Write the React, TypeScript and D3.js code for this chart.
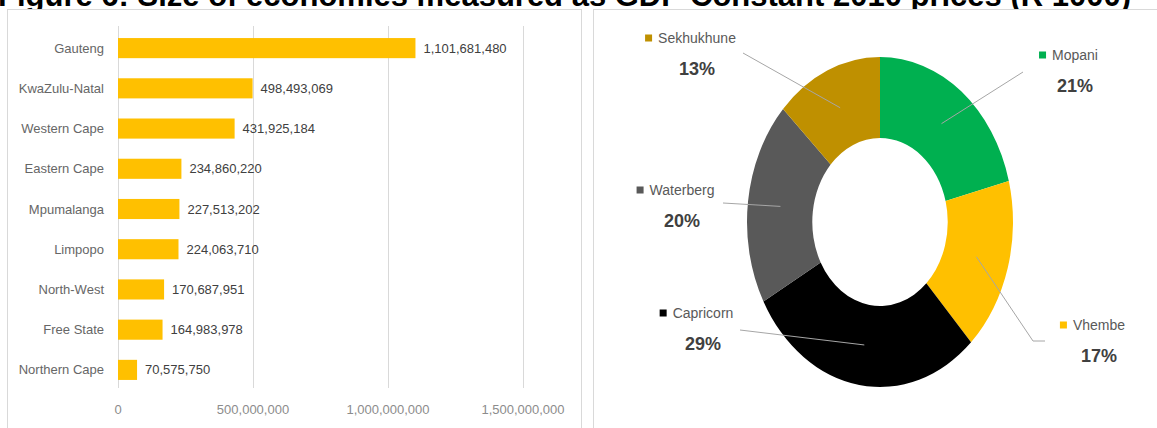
import React, { useEffect, useRef } from "react";
import * as d3 from "d3";

const TITLE = "Figure 6: Size of economies measured as GDP Constant 2010 prices (R 1000)";

const provinces = [
  "Gauteng",
  "KwaZulu-Natal",
  "Western Cape",
  "Eastern Cape",
  "Mpumalanga",
  "Limpopo",
  "North-West",
  "Free State",
  "Northern Cape",
];
const gdpValues = [
  1101681480, 498493069, 431925184, 234860220, 227513202, 224063710, 170687951, 164983978, 70575750,
];
const xTicks = [0, 500000000, 1000000000, 1500000000];

const districts = ["Mopani", "Vhembe", "Capricorn", "Waterberg", "Sekhukhune"];
const districtShares = [21, 17, 29, 20, 13];
const districtColors = ["#00B050", "#FFC000", "#000000", "#595959", "#BF9000"];

// label layout (name centre) for each district, in drawing coordinates
const labelLayout = [
  { cx: 1075, cy: 55, lx: 1023, ly: 72 },
  { cx: 1099, cy: 325, lx: 1045, ly: 341, bx: 1033 },
  { cx: 703, cy: 313, lx: 740, ly: 330 },
  { cx: 682, cy: 190, lx: 723, ly: 203 },
  { cx: 697, cy: 38, lx: 743, ly: 53 },
];

const FONT = "'Liberation Sans', Arial, sans-serif";

export default function App() {
  const ref = useRef<SVGSVGElement | null>(null);

  useEffect(() => {
    const svg = d3.select(ref.current);
    svg.selectAll("*").remove();

    // title (cut off at top, as in the reference)
    svg
      .append("text")
      .attr("x", -2)
      .attr("y", 6)
      .attr("font-family", FONT)
      .attr("font-weight", "bold")
      .attr("font-size", 31)
      .attr("fill", "#000")
      .text(TITLE);

    // panels
    svg
      .append("rect")
      .attr("x", 7.5)
      .attr("y", 9.5)
      .attr("width", 574)
      .attr("height", 430)
      .attr("fill", "#fff")
      .attr("stroke", "#D9D9D9");
    svg
      .append("rect")
      .attr("x", 593.5)
      .attr("y", 9.5)
      .attr("width", 600)
      .attr("height", 430)
      .attr("fill", "#fff")
      .attr("stroke", "#D9D9D9");

    // ---------- bar chart ----------
    const x = d3.scaleLinear().domain([0, 1500000000]).range([118, 523]);
    const y = d3
      .scaleBand<string>()
      .domain(provinces)
      .range([28, 390])
      .paddingInner(0.5)
      .paddingOuter(0.25);

    const g = svg.append("g");
    g.selectAll("line.grid")
      .data(xTicks)
      .join("line")
      .attr("class", "grid")
      .attr("x1", (d) => Math.round(x(d)) + 0.5)
      .attr("x2", (d) => Math.round(x(d)) + 0.5)
      .attr("y1", 26)
      .attr("y2", 388)
      .attr("stroke", "#D9D9D9")
      .attr("stroke-width", 1);

    g.selectAll("text.tick")
      .data(xTicks)
      .join("text")
      .attr("class", "tick")
      .attr("x", (d) => x(d))
      .attr("y", 414)
      .attr("text-anchor", "middle")
      .attr("font-family", FONT)
      .attr("font-size", 13)
      .attr("fill", "#8C8C8C")
      .text((d) => d3.format(",")(d));

    g.selectAll("rect.bar")
      .data(provinces)
      .join("rect")
      .attr("class", "bar")
      .attr("x", x(0))
      .attr("y", (d) => y(d)!)
      .attr("width", (d, i) => x(gdpValues[i]) - x(0))
      .attr("height", y.bandwidth())
      .attr("fill", "#FFC000");

    g.selectAll("text.cat")
      .data(provinces)
      .join("text")
      .attr("class", "cat")
      .attr("x", 104)
      .attr("y", (d) => y(d)! + y.bandwidth() / 2 + 4.5)
      .attr("text-anchor", "end")
      .attr("font-family", FONT)
      .attr("font-size", 13)
      .attr("fill", "#666666")
      .text((d) => d);

    g.selectAll("text.val")
      .data(provinces)
      .join("text")
      .attr("class", "val")
      .attr("x", (d, i) => x(gdpValues[i]) + 8)
      .attr("y", (d) => y(d)! + y.bandwidth() / 2 + 4.5)
      .attr("font-family", FONT)
      .attr("font-size", 13)
      .attr("fill", "#404040")
      .text((d, i) => d3.format(",")(gdpValues[i]));

    // ---------- donut ----------
    const R = 165;
    const r0 = 84;
    const sx = 133 / 165;
    const cx = 880;
    const cy = 222;
    const pie = d3
      .pie<number>()
      .sort(null)
      .value((d) => d);
    const arcs = pie(districtShares);
    const arc = d3.arc<d3.PieArcDatum<number>>().innerRadius(r0).outerRadius(R);

    const dg = svg.append("g").attr("transform", `translate(${cx},${cy}) scale(${sx},1)`);
    dg.selectAll("path")
      .data(arcs)
      .join("path")
      .attr("d", arc)
      .attr("fill", (d, i) => districtColors[i]);

    // leader lines
    arcs.forEach((a, i) => {
      const [mx, my] = arc.centroid(a);
      const px = cx + mx * sx;
      const py = cy + my;
      const L = labelLayout[i];
      const pts: [number, number][] = [[L.lx, L.ly]];
      if (L.bx !== undefined) pts.push([L.bx, L.ly]);
      pts.push([px, py]);
      svg
        .append("path")
        .attr("d", d3.line()(pts))
        .attr("fill", "none")
        .attr("stroke", "#A6A6A6")
        .attr("stroke-width", 1);
    });

    // labels
    districts.forEach((name, i) => {
      const L = labelLayout[i];
      const t = svg
        .append("text")
        .attr("x", L.cx)
        .attr("y", L.cy + 5)
        .attr("text-anchor", "middle")
        .attr("font-family", FONT)
        .attr("font-size", 14)
        .attr("fill", "#595959")
        .text(name);
      const w = (t.node() as SVGTextElement).getComputedTextLength();
      svg
        .append("rect")
        .attr("x", L.cx - w / 2 - 13)
        .attr("y", L.cy - 3.5)
        .attr("width", 7)
        .attr("height", 7)
        .attr("fill", districtColors[i]);
      svg
        .append("text")
        .attr("x", L.cx)
        .attr("y", L.cy + 30 + 6.5)
        .attr("text-anchor", "middle")
        .attr("font-family", FONT)
        .attr("font-size", 18)
        .attr("font-weight", "bold")
        .attr("fill", "#404040")
        .text(`${districtShares[i]}%`);
    });
  }, []);

  return (
    <svg
      ref={ref}
      width={1157}
      height={428}
      style={{ position: "absolute", left: 0, top: 0, display: "block", background: "#fff" }}
    />
  );
}
